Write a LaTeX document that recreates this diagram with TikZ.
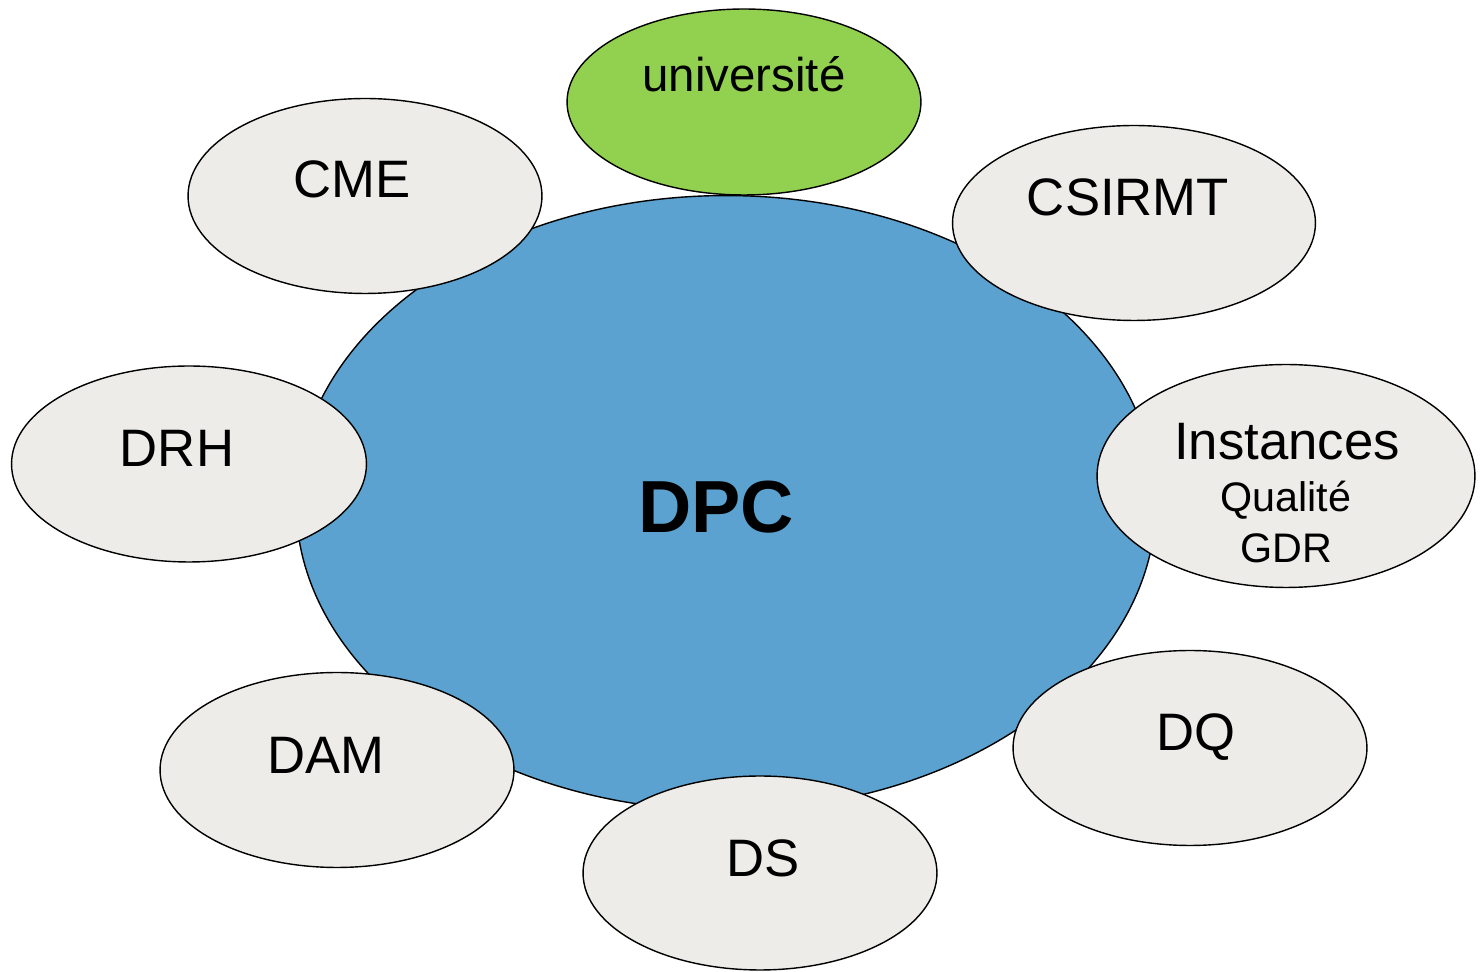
\documentclass[tikz,border=0pt]{standalone}
\usepackage{fontspec}
\setmainfont{Liberation Sans}
\usetikzlibrary{shapes.geometric}

\definecolor{dpcblue}{HTML}{5BA2D0}
\definecolor{unigreen}{HTML}{92D050}
\definecolor{satgray}{HTML}{EDECE8}

\begin{document}
\begin{tikzpicture}[x=0.02cm, y=-0.02cm,
		bubble/.style={ellipse, draw=black, line width=0.8pt, inner sep=0pt},
		satellite/.style={bubble, fill=satgray, minimum width=7.08cm, minimum height=3.9cm},
		label text/.style={anchor=base, inner sep=0pt, font=\fontsize{30}{36}\selectfont},
		small text/.style={anchor=base, inner sep=0pt, font=\fontsize{23.5}{28}\selectfont}]
			\useasboundingbox (0,0) rectangle (1482,972);
			% centre
			\node[bubble, fill=dpcblue, minimum width=17.2cm, minimum height=12.3cm] (dpc) at (726,503) {};
			\node[anchor=base, inner sep=0pt, font=\fontsize{42}{48}\selectfont\bfseries] (dpc-t) at (716,533) {DPC};
			% satellites
			\node[bubble, fill=unigreen, minimum width=7.08cm, minimum height=3.72cm] (univ) at (744,102) {};
			\node[satellite] (cme) at (365,196) {};
			\node[satellite, minimum width=7.26cm] (csirmt) at (1134,223) {};
			\node[satellite, minimum width=7.56cm, minimum height=4.46cm] (inst) at (1286,476) {};
			\node[satellite, minimum width=7.1cm, minimum height=3.92cm] (drh) at (189,464) {};
			\node[satellite] (dam) at (337,770) {};
			\node[satellite, minimum height=3.88cm] (ds) at (760,873) {};
			\node[satellite] (dq) at (1190,748) {};
			% labels
			\node[label text, font=\fontsize{27}{32}\selectfont] (univ-t) at (744,92) {université};
			\node[label text] (cme-t) at (352,198) {CME};
			\node[label text] (csirmt-t) at (1128,216) {CSIRMT};
			\node[label text] (inst-t) at (1287,460) {Instances};
			\node[small text] (inst-q) at (1286,512) {Qualité};
			\node[small text] (inst-g) at (1286,563) {GDR};
			\node[label text] (drh-t) at (177,467) {DRH};
			\node[label text] (dam-t) at (326,774) {DAM};
			\node[label text] (ds-t) at (763,877) {DS};
			\node[label text] (dq-t) at (1196,751) {DQ};
\end{tikzpicture}
\end{document}
